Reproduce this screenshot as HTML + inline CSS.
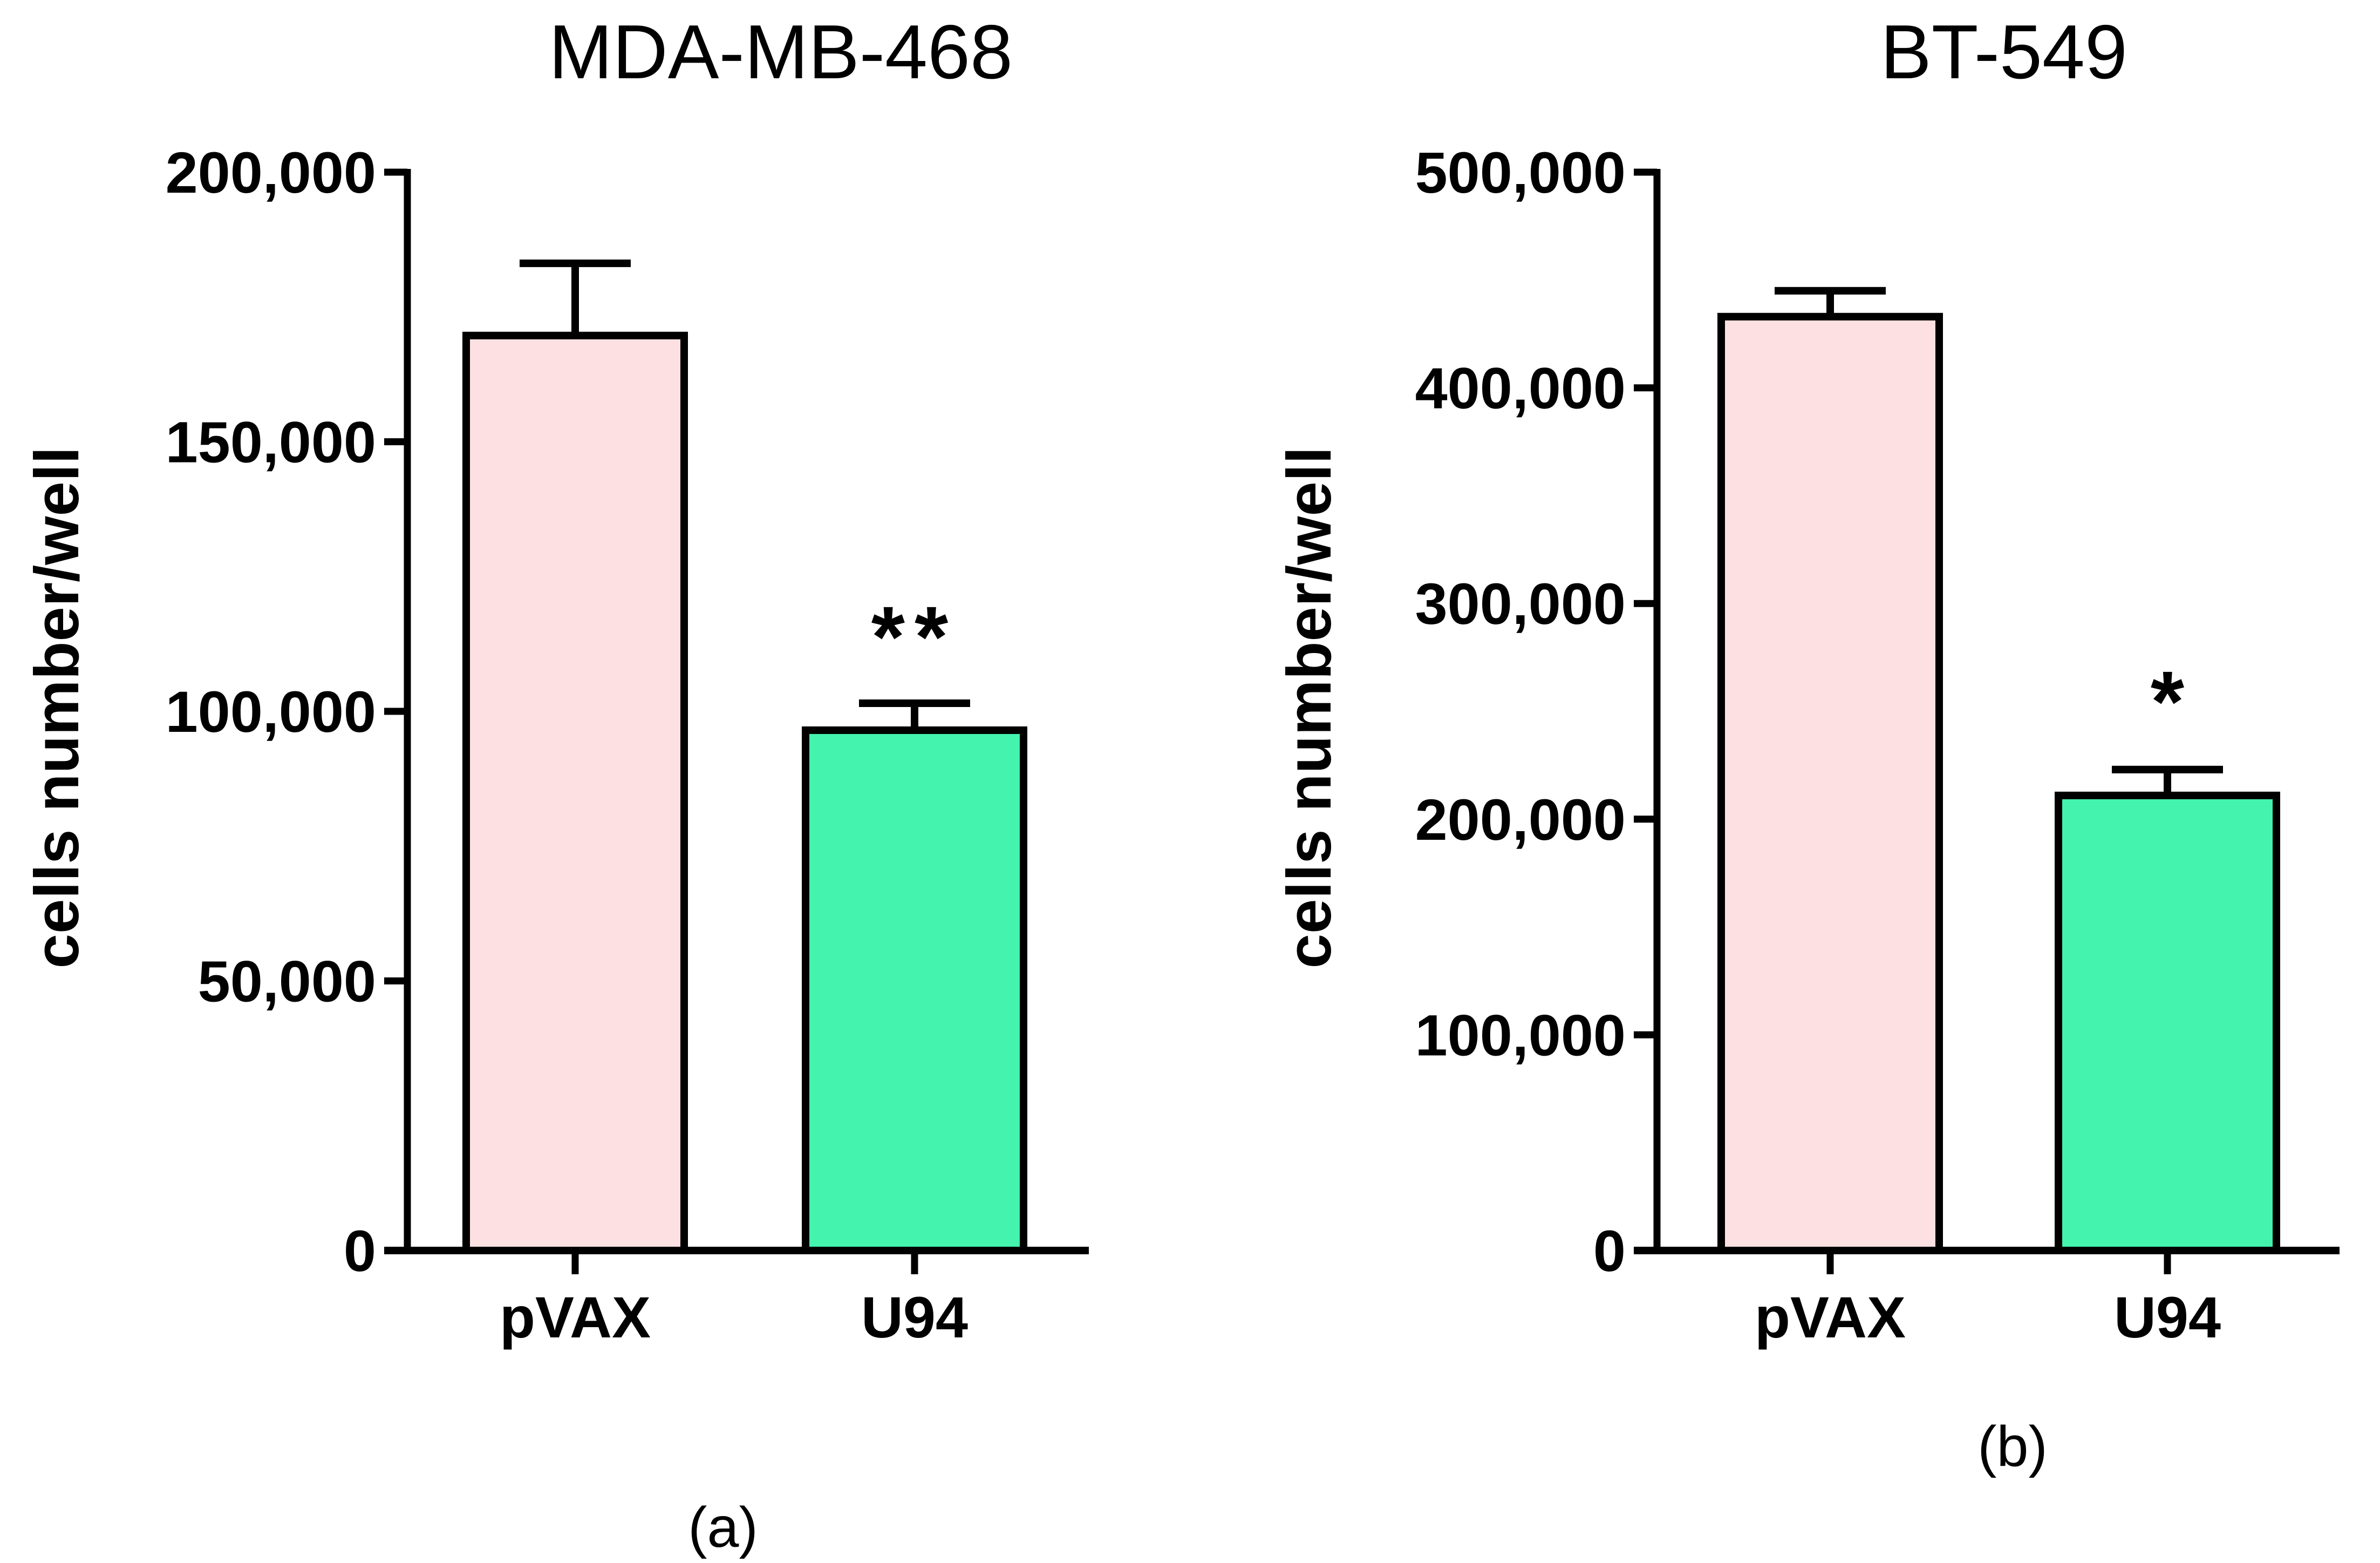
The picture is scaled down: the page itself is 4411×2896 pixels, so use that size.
<!DOCTYPE html>
<html><head><meta charset="utf-8"><style>
html,body{margin:0;padding:0;background:#fff;}
svg{display:block;}
text{font-family:"Liberation Sans",Arial,sans-serif;fill:#000;}
</style></head><body>
<svg id="chart" width="4411" height="2896" viewBox="0 0 4411 2896" xmlns="http://www.w3.org/2000/svg">
<g id="pa"></g>
<g id="pb"></g>
</svg>
<script>
const categories = ["pVAX", "U94"];
const aMeans = [169700, 96500];
const aErrors = [13400, 5000];
const aTicks = [0, 50000, 100000, 150000, 200000];
const aTickLabels = ["0", "50,000", "100,000", "150,000", "200,000"];
const bMeans = [433000, 211000];
const bErrors = [12000, 12000];
const bTicks = [0, 100000, 200000, 300000, 400000, 500000];
const bTickLabels = ["0", "100,000", "200,000", "300,000", "400,000", "500,000"];
const colors = ["#FDE0E1", "#43F3AE"];

const NS = "http://www.w3.org/2000/svg";
function mk(parent, tag, attrs, txt) {
  const e = document.createElementNS(NS, tag);
  for (const k in attrs) e.setAttribute(k, attrs[k]);
  if (txt !== undefined) e.textContent = txt;
  parent.appendChild(e);
  return e;
}

function panel(g, cfg) {
  const y0 = 2317, yTop = 319;
  const y = v => y0 - (v / cfg.max) * (y0 - yTop);
  const ax = cfg.axisX;
  const xs = cfg.centers;
  const bw = 404;
  cfg.means.forEach((m, i) => {
    const top = y(m + cfg.errs[i]);
    let l = mk(g, "line", {x1: xs[i], x2: xs[i], y1: y(m), y2: top, stroke: "#000", "stroke-width": 14});
    
    
    let c = mk(g, "line", {x1: xs[i] - 103, x2: xs[i] + 103, y1: top, y2: top, stroke: "#000", "stroke-width": 14});
    
    
    let r = mk(g, "rect", {x: xs[i] - bw / 2, y: y(m), width: bw, height: y0 - y(m), fill: colors[i], stroke: "#000", "stroke-width": 14});
    
    
    let t = mk(g, "text", {x: xs[i], y: 2478, "font-size": 108, "font-weight": "bold", "text-anchor": "middle"}, categories[i]);
    
    
    let tk = mk(g, "line", {x1: xs[i], x2: xs[i], y1: y0, y2: y0 + 44, stroke: "#000", "stroke-width": 13});
    
    
  });
  let ya = mk(g, "line", {x1: ax, x2: ax, y1: yTop - 6, y2: y0 + 6, stroke: "#000", "stroke-width": 13});
  
  
  let xa = mk(g, "line", {x1: ax - 43, x2: cfg.xEnd, y1: y0, y2: y0, stroke: "#000", "stroke-width": 14});
  
  
  cfg.ticks.forEach((v, i) => {
    let tk = mk(g, "line", {x1: ax - 43, x2: ax, y1: y(v), y2: y(v), stroke: "#000", "stroke-width": 13});
    
    
    let tl = mk(g, "text", {x: ax - 58, y: y(v) + 38, "font-size": 108, "font-weight": "bold", "text-anchor": "end"}, cfg.labels[i]);
    
    
  });
  let yt = mk(g, "text", {x: 0, y: 0, "font-size": 116, "font-weight": "bold", "text-anchor": "middle", transform: "translate(" + cfg.ytX + ",1311) rotate(-90)"}, "cells number/well");
  
  
  let ti = mk(g, "text", {x: cfg.titleX, y: 145, "font-size": 142, "text-anchor": "middle"}, cfg.title);
  
  
  let st = mk(g, "text", {x: xs[1], y: cfg.starY, "font-size": 160, "font-weight": "bold", "text-anchor": "middle", "letter-spacing": cfg.stars.length > 1 ? 18 : 0}, cfg.stars);
  
  
  let pl = mk(g, "text", {x: cfg.plX, y: cfg.plY, "font-size": 106, "text-anchor": "middle"}, cfg.pl);
  
  
}

panel(document.getElementById("pa"), {max: 200000, means: aMeans, errs: aErrors, ticks: aTicks, labels: aTickLabels,
  axisX: 755, xEnd: 2018, centers: [1066, 1695], ytX: 145, title: "MDA-MB-468", titleX: 1447,
  stars: "**", starY: 1235, pl: "(a)", plX: 1340, plY: 2866});
panel(document.getElementById("pb"), {max: 500000, means: bMeans, errs: bErrors, ticks: bTicks, labels: bTickLabels,
  axisX: 3071, xEnd: 4336, centers: [3392, 4017], ytX: 2466, title: "BT-549", titleX: 3714,
  stars: "*", starY: 1355, pl: "(b)", plX: 3730, plY: 2716});
</script>
</body></html>
